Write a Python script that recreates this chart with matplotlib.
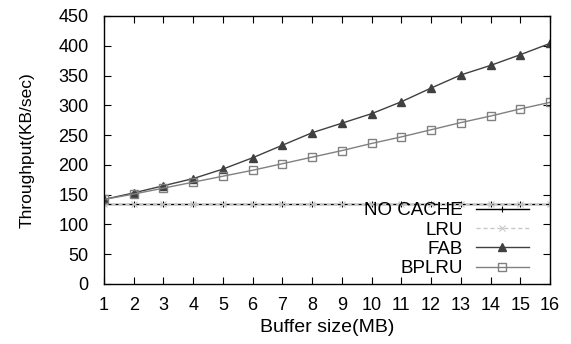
import matplotlib
matplotlib.use('Agg')
import matplotlib.pyplot as plt

plt.rcParams['font.family'] = ['Liberation Sans', 'DejaVu Sans']

buffer_mb = list(range(1, 17))
no_cache = [135] * 16
lru = [135] * 16
fab = [142, 153, 165, 177, 193, 212, 233, 254, 270, 286, 306, 329, 351, 367, 385, 404]
bplru = [142, 151, 161, 171, 181, 191, 202, 213, 224, 236, 247, 259, 271, 282, 294, 305]

fig = plt.figure(figsize=(5.71, 3.44), dpi=100)
ax = fig.add_axes([104 / 571, 1 - 284 / 344, (550 - 104) / 571, (284 - 16) / 344])

ax.plot(buffer_mb, no_cache, color='black', lw=1.0, marker='+', ms=5, mew=0.8,
        label='NO CACHE')
ax.plot(buffer_mb, lru, color='#c8c8c8', lw=1.0, ls=(0, (3, 2)), marker='x', ms=4,
        mew=0.8, label='LRU')
ax.plot(buffer_mb, fab, color='#404040', lw=1.0, marker='^', ms=5.5,
        label='FAB')
ax.plot(buffer_mb, bplru, color='#808080', lw=1.0, marker='s', ms=5.5,
        mfc='none', mew=1.0, label='BPLRU')

ax.set_xlim(1, 16)
ax.set_ylim(0, 450)
ax.set_xticks(buffer_mb)
ax.set_yticks(range(0, 451, 50))
ax.tick_params(direction='in', top=True, right=True, length=5, labelsize=13)
ax.tick_params(axis='y', pad=11)
ax.tick_params(axis='x', pad=9)
for s in ax.spines.values():
    s.set_linewidth(1.0)

ax.set_xlabel('Buffer size(MB)', fontsize=14, labelpad=4)
ax.set_ylabel('Throughput(KB/sec)', fontsize=12.5, labelpad=17)

leg = ax.legend(loc='lower right', bbox_to_anchor=(0.952, 0.025), frameon=False,
                fontsize=13.5, markerfirst=False, handlelength=2.8,
                labelspacing=0.1, handletextpad=0.7, borderaxespad=0,
                borderpad=0, handleheight=0.75)
for t in leg.get_texts():
    t.set_ha('right')

fig.savefig('out.png', dpi=100)
